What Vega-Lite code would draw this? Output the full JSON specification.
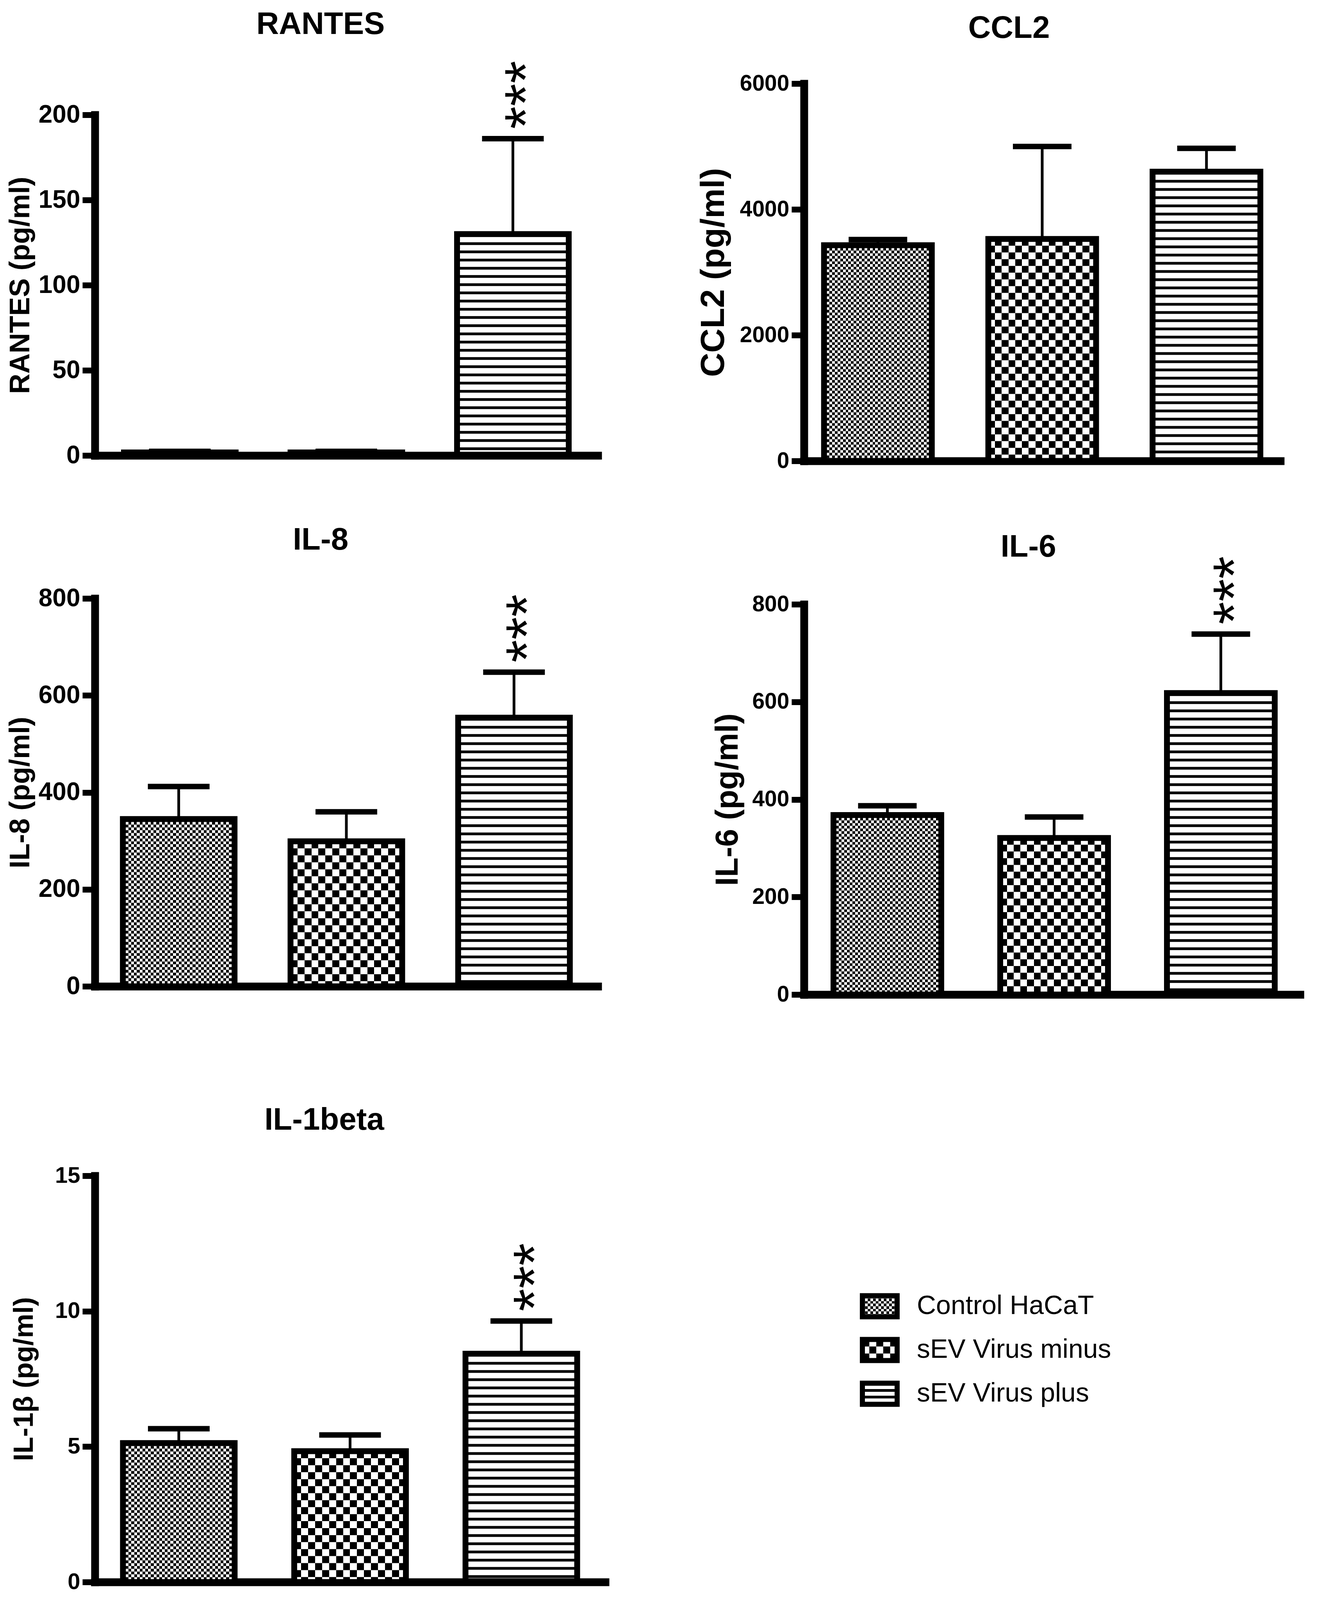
{
  "$schema": "https://vega.github.io/schema/vega-lite/v6.json",
  "background": "white",
  "padding": {"left": 16, "top": 23, "right": 0, "bottom": 0},
  "data": {
    "values": [
      {"panel": "RANTES", "group": "Control HaCaT", "mean": 1.8, "high": 2.4, "sig": ""},
      {"panel": "RANTES", "group": "sEV Virus minus", "mean": 1.8, "high": 2.4, "sig": ""},
      {"panel": "RANTES", "group": "sEV Virus plus", "mean": 130, "high": 186, "sig": "***"},
      {"panel": "CCL2", "group": "Control HaCaT", "mean": 3430, "high": 3520, "sig": ""},
      {"panel": "CCL2", "group": "sEV Virus minus", "mean": 3530, "high": 5000, "sig": ""},
      {"panel": "CCL2", "group": "sEV Virus plus", "mean": 4600, "high": 4970, "sig": ""},
      {"panel": "IL-8", "group": "Control HaCaT", "mean": 345, "high": 412, "sig": ""},
      {"panel": "IL-8", "group": "sEV Virus minus", "mean": 299, "high": 360, "sig": ""},
      {"panel": "IL-8", "group": "sEV Virus plus", "mean": 554, "high": 648, "sig": "***"},
      {"panel": "IL-6", "group": "Control HaCaT", "mean": 368, "high": 387, "sig": ""},
      {"panel": "IL-6", "group": "sEV Virus minus", "mean": 321, "high": 364, "sig": ""},
      {"panel": "IL-6", "group": "sEV Virus plus", "mean": 618, "high": 739, "sig": "***"},
      {"panel": "IL-1beta", "group": "Control HaCaT", "mean": 5.13, "high": 5.66, "sig": ""},
      {"panel": "IL-1beta", "group": "sEV Virus minus", "mean": 4.83, "high": 5.43, "sig": ""},
      {"panel": "IL-1beta", "group": "sEV Virus plus", "mean": 8.43, "high": 9.64, "sig": "***"}
    ]
  },
  "concat": [
    {
      "concat": [
        {
          "concat": [
            {
              "title": {"text": "RANTES", "offset": 51},
              "width": 1288,
              "height": 952,
              "transform": [{"filter": "datum.panel === 'RANTES'"}],
              "encoding": {
                "x": {"field": "group", "type": "nominal", "sort": null, "scale": {"type": "band", "paddingInner": 0.3, "paddingOuter": 0.16}, "axis": {"labels": false, "ticks": false, "title": null}},
                "y": {"field": "mean", "type": "quantitative", "scale": {"domain": [0, 200], "nice": false, "range": [952, 80]}, "axis": {"values": [0, 50, 100, 150, 200], "format": "d", "title": "RANTES (pg/ml)", "titlePadding": 9}}
              },
              "layer": [
                {"transform": [{"filter": "datum.group === 'Control HaCaT'"}], "mark": {"type": "bar", "style": "fineCols", "size": 286}},
                {"transform": [{"filter": "datum.group === 'sEV Virus minus'"}], "mark": {"type": "bar", "style": "coarseCols", "size": 286}},
                {"transform": [{"filter": "datum.group === 'Control HaCaT'"}], "mark": {"type": "rule", "color": "#fff", "strokeWidth": 286, "strokeDash": [7.15, 7.15], "blend": "difference"}, "encoding": {"y2": {"datum": 0}}},
                {"transform": [{"filter": "datum.group === 'sEV Virus minus'"}], "mark": {"type": "rule", "color": "#fff", "strokeWidth": 286, "strokeDash": [17.9, 17.9], "blend": "difference"}, "encoding": {"y2": {"datum": 0}}},
                {"transform": [{"filter": "datum.group === 'sEV Virus plus'"}], "mark": {"type": "rule", "color": "#000", "strokeWidth": 286, "strokeDash": [7, 14]}, "encoding": {"y2": {"datum": 0}}},
                {"mark": {"type": "rule", "color": "#000", "strokeWidth": 7}, "encoding": {"y2": {"field": "high"}}},
                {"mark": {"type": "bar", "filled": false, "color": "#000", "strokeWidth": 15, "size": 286}},
                {"mark": {"type": "tick", "orient": "horizontal", "color": "#000", "size": 158, "thickness": 14, "opacity": 1}, "encoding": {"y": {"field": "high", "type": "quantitative"}}},
                {"transform": [{"filter": "datum.sig === '***'"}], "mark": {"type": "text", "style": "stars"}, "encoding": {"y": {"field": "high", "type": "quantitative"}, "text": {"field": "sig"}}}
              ]
            },
            {
              "title": {"text": "IL-8", "offset": 76},
              "width": 1288,
              "height": 993,
              "transform": [{"filter": "datum.panel === 'IL-8'"}],
              "encoding": {
                "x": {"field": "group", "type": "nominal", "sort": null, "scale": {"type": "band", "paddingInner": 0.3, "paddingOuter": 0.15}, "axis": {"labels": false, "ticks": false, "title": null}},
                "y": {"field": "mean", "type": "quantitative", "scale": {"domain": [0, 800], "nice": false}, "axis": {"values": [0, 200, 400, 600, 800], "format": "d", "title": "IL-8 (pg/ml)", "titlePadding": 9}}
              },
              "layer": [
                {"transform": [{"filter": "datum.group === 'Control HaCaT'"}], "mark": {"type": "bar", "style": "fineCols", "size": 286}},
                {"transform": [{"filter": "datum.group === 'sEV Virus minus'"}], "mark": {"type": "bar", "style": "coarseCols", "size": 286}},
                {"transform": [{"filter": "datum.group === 'Control HaCaT'"}], "mark": {"type": "rule", "color": "#fff", "strokeWidth": 286, "strokeDash": [7.15, 7.15], "blend": "difference"}, "encoding": {"y2": {"datum": 0}}},
                {"transform": [{"filter": "datum.group === 'sEV Virus minus'"}], "mark": {"type": "rule", "color": "#fff", "strokeWidth": 286, "strokeDash": [17.9, 17.9], "blend": "difference"}, "encoding": {"y2": {"datum": 0}}},
                {"transform": [{"filter": "datum.group === 'sEV Virus plus'"}], "mark": {"type": "rule", "color": "#000", "strokeWidth": 286, "strokeDash": [7, 14]}, "encoding": {"y2": {"datum": 0}}},
                {"mark": {"type": "rule", "color": "#000", "strokeWidth": 7}, "encoding": {"y2": {"field": "high"}}},
                {"mark": {"type": "bar", "filled": false, "color": "#000", "strokeWidth": 15, "size": 286}},
                {"mark": {"type": "tick", "orient": "horizontal", "color": "#000", "size": 158, "thickness": 14, "opacity": 1}, "encoding": {"y": {"field": "high", "type": "quantitative"}}},
                {"transform": [{"filter": "datum.sig === '***'"}], "mark": {"type": "text", "style": "stars"}, "encoding": {"y": {"field": "high", "type": "quantitative"}, "text": {"field": "sig"}}}
              ]
            }
          ],
          "columns": 1,
          "align": "none",
          "spacing": 34
        },
        {
          "title": {"text": "IL-1beta", "offset": 72},
          "width": 1307,
          "height": 1040,
          "transform": [{"filter": "datum.panel === 'IL-1beta'"}],
          "encoding": {
            "x": {"field": "group", "type": "nominal", "sort": null, "scale": {"type": "band", "paddingInner": 0.3, "paddingOuter": 0.14}, "axis": {"labels": false, "ticks": false, "title": null}},
            "y": {"field": "mean", "type": "quantitative", "scale": {"domain": [0, 15], "nice": false}, "axis": {"values": [0, 5, 10, 15], "format": "d", "title": "IL-1β (pg/ml)", "titlePadding": 42, "labelFontSize": 58, "titleFontSize": 70}}
          },
          "layer": [
            {"transform": [{"filter": "datum.group === 'Control HaCaT'"}], "mark": {"type": "bar", "style": "fineCols", "size": 286}},
            {"transform": [{"filter": "datum.group === 'sEV Virus minus'"}], "mark": {"type": "bar", "style": "coarseCols", "size": 286}},
            {"transform": [{"filter": "datum.group === 'Control HaCaT'"}], "mark": {"type": "rule", "color": "#fff", "strokeWidth": 286, "strokeDash": [7.15, 7.15], "blend": "difference"}, "encoding": {"y2": {"datum": 0}}},
            {"transform": [{"filter": "datum.group === 'sEV Virus minus'"}], "mark": {"type": "rule", "color": "#fff", "strokeWidth": 286, "strokeDash": [17.9, 17.9], "blend": "difference"}, "encoding": {"y2": {"datum": 0}}},
            {"transform": [{"filter": "datum.group === 'sEV Virus plus'"}], "mark": {"type": "rule", "color": "#000", "strokeWidth": 286, "strokeDash": [7, 14]}, "encoding": {"y2": {"datum": 0}}},
            {"mark": {"type": "rule", "color": "#000", "strokeWidth": 7}, "encoding": {"y2": {"field": "high"}}},
            {"mark": {"type": "bar", "filled": false, "color": "#000", "strokeWidth": 15, "size": 286}},
            {"mark": {"type": "tick", "orient": "horizontal", "color": "#000", "size": 158, "thickness": 14, "opacity": 1}, "encoding": {"y": {"field": "high", "type": "quantitative"}}},
            {"transform": [{"filter": "datum.sig === '***'"}], "mark": {"type": "text", "style": "stars"}, "encoding": {"y": {"field": "high", "type": "quantitative"}, "text": {"field": "sig"}}}
          ]
        }
      ],
      "columns": 1,
      "align": "none",
      "spacing": 160
    },
    {
      "concat": [
        {
          "concat": [
            {
              "title": {"text": "CCL2", "offset": 71, "dx": -85},
              "width": 1220,
              "height": 966,
              "transform": [{"filter": "datum.panel === 'CCL2'"}],
              "encoding": {
                "x": {"field": "group", "type": "nominal", "sort": null, "scale": {"type": "band", "paddingInner": 0.3, "paddingOuter": 0.1}, "axis": {"labels": false, "ticks": false, "title": null}},
                "y": {"field": "mean", "type": "quantitative", "scale": {"domain": [0, 6000], "nice": false}, "axis": {"values": [0, 2000, 4000, 6000], "format": "d", "title": "CCL2 (pg/ml)", "titlePadding": 23, "labelFontSize": 57, "titleFontSize": 86}}
              },
              "layer": [
                {"transform": [{"filter": "datum.group === 'Control HaCaT'"}], "mark": {"type": "bar", "style": "fineCols", "size": 276}},
                {"transform": [{"filter": "datum.group === 'sEV Virus minus'"}], "mark": {"type": "bar", "style": "coarseCols", "size": 276}},
                {"transform": [{"filter": "datum.group === 'Control HaCaT'"}], "mark": {"type": "rule", "color": "#fff", "strokeWidth": 276, "strokeDash": [6.9, 6.9], "blend": "difference"}, "encoding": {"y2": {"datum": 0}}},
                {"transform": [{"filter": "datum.group === 'sEV Virus minus'"}], "mark": {"type": "rule", "color": "#fff", "strokeWidth": 276, "strokeDash": [17.25, 17.25], "blend": "difference"}, "encoding": {"y2": {"datum": 0}}},
                {"transform": [{"filter": "datum.group === 'sEV Virus plus'"}], "mark": {"type": "rule", "color": "#000", "strokeWidth": 276, "strokeDash": [7, 14]}, "encoding": {"y2": {"datum": 0}}},
                {"mark": {"type": "rule", "color": "#000", "strokeWidth": 7}, "encoding": {"y2": {"field": "high"}}},
                {"mark": {"type": "bar", "filled": false, "color": "#000", "strokeWidth": 15, "size": 276}},
                {"mark": {"type": "tick", "orient": "horizontal", "color": "#000", "size": 150, "thickness": 14, "opacity": 1}, "encoding": {"y": {"field": "high", "type": "quantitative"}}}
              ]
            },
            {
              "title": {"text": "IL-6", "offset": -18},
              "width": 1281,
              "height": 999,
              "transform": [{"filter": "datum.panel === 'IL-6'"}],
              "encoding": {
                "x": {"field": "group", "type": "nominal", "sort": null, "scale": {"type": "band", "paddingInner": 0.3, "paddingOuter": 0.15}, "axis": {"labels": false, "ticks": false, "title": null}},
                "y": {"field": "mean", "type": "quantitative", "scale": {"domain": [0, 800], "nice": false}, "axis": {"values": [0, 200, 400, 600, 800], "format": "d", "title": "IL-6 (pg/ml)", "titlePadding": 20, "labelFontSize": 57, "titleFontSize": 82}}
              },
              "layer": [
                {"transform": [{"filter": "datum.group === 'Control HaCaT'"}], "mark": {"type": "bar", "style": "fineCols", "size": 276}},
                {"transform": [{"filter": "datum.group === 'sEV Virus minus'"}], "mark": {"type": "bar", "style": "coarseCols", "size": 276}},
                {"transform": [{"filter": "datum.group === 'Control HaCaT'"}], "mark": {"type": "rule", "color": "#fff", "strokeWidth": 276, "strokeDash": [6.9, 6.9], "blend": "difference"}, "encoding": {"y2": {"datum": 0}}},
                {"transform": [{"filter": "datum.group === 'sEV Virus minus'"}], "mark": {"type": "rule", "color": "#fff", "strokeWidth": 276, "strokeDash": [17.25, 17.25], "blend": "difference"}, "encoding": {"y2": {"datum": 0}}},
                {"transform": [{"filter": "datum.group === 'sEV Virus plus'"}], "mark": {"type": "rule", "color": "#000", "strokeWidth": 276, "strokeDash": [7, 14]}, "encoding": {"y2": {"datum": 0}}},
                {"mark": {"type": "rule", "color": "#000", "strokeWidth": 7}, "encoding": {"y2": {"field": "high"}}},
                {"mark": {"type": "bar", "filled": false, "color": "#000", "strokeWidth": 15, "size": 276}},
                {"mark": {"type": "tick", "orient": "horizontal", "color": "#000", "size": 150, "thickness": 14, "opacity": 1}, "encoding": {"y": {"field": "high", "type": "quantitative"}}},
                {"transform": [{"filter": "datum.sig === '***'"}], "mark": {"type": "text", "style": "stars"}, "encoding": {"y": {"field": "high", "type": "quantitative"}, "text": {"field": "sig"}}}
              ]
            }
          ],
          "columns": 1,
          "align": "none",
          "spacing": 42
        },
        {
          "width": 238.5,
          "height": 336,
          "transform": [{"filter": "datum.panel === 'IL-1beta'"}],
          "encoding": {
            "y": {"field": "group", "type": "nominal", "sort": null, "scale": {"type": "band", "paddingInner": 0.52, "paddingOuter": 0.26}, "axis": {"orient": "right", "domain": false, "ticks": false, "tickSize": 0, "labelPadding": 50, "labelFontWeight": "normal", "labelFontSize": 68, "labelLimit": 0, "title": null}},
            "x": {"datum": 0, "type": "quantitative", "scale": {"domain": [0, 1], "nice": false, "zero": false, "range": [149.5, 238.5]}, "axis": null},
            "x2": {"datum": 1}
          },
          "layer": [
            {"transform": [{"filter": "datum.group === 'Control HaCaT'"}], "mark": {"type": "rect", "style": "legFineRows"}},
            {"transform": [{"filter": "datum.group === 'sEV Virus minus'"}], "mark": {"type": "rect", "style": "legCoarseRows"}},
            {"transform": [{"filter": "datum.group === 'sEV Virus plus'"}], "mark": {"type": "rect", "style": "legStripes"}},
            {"transform": [{"filter": "datum.group === 'Control HaCaT'"}], "mark": {"type": "rule", "color": "#fff", "strokeWidth": 54, "strokeDash": [6.85, 6.85], "blend": "difference"}},
            {"transform": [{"filter": "datum.group === 'sEV Virus minus'"}], "mark": {"type": "rule", "color": "#fff", "strokeWidth": 54, "strokeDash": [17.8, 17.8], "blend": "difference"}},
            {"mark": {"type": "rect", "filled": false, "color": "#000", "strokeWidth": 13}}
          ]
        }
      ],
      "columns": 1,
      "align": "none",
      "spacing": 604
    }
  ],
  "columns": 2,
  "align": "none",
  "spacing": 234,
  "config": {
    "view": {"stroke": null},
    "font": "Liberation Sans",
    "axis": {
      "grid": false,
      "domainColor": "#000",
      "domainWidth": 20,
      "domainCap": "square",
      "tickColor": "#000",
      "tickWidth": 15,
      "tickSize": 32,
      "labelColor": "#000",
      "labelFont": "Liberation Sans",
      "labelFontWeight": "bold",
      "labelFontSize": 64,
      "labelPadding": 6,
      "labelOverlap": false,
      "labelFlush": false,
      "titleColor": "#000",
      "titleFont": "Liberation Sans",
      "titleFontWeight": "bold",
      "titleFontSize": 72
    },
    "title": {"font": "Liberation Sans", "fontWeight": "bold", "fontSize": 80, "color": "#000", "anchor": "middle", "dx": -66},
    "style": {
      "stars": {"font": "Liberation Sans", "fontSize": 150, "color": "#000", "angle": 270, "align": "center", "baseline": "middle", "dx": 112, "dy": 40},
      "fineCols": {"color": {"gradient": "linear", "x1": 0, "y1": 0, "x2": 1, "y2": 0, "stops": [
        {"offset": 0, "color": "#000"}, {"offset": 0.025, "color": "#000"}, {"offset": 0.025, "color": "#fff"}, {"offset": 0.05, "color": "#fff"},
        {"offset": 0.05, "color": "#000"}, {"offset": 0.075, "color": "#000"}, {"offset": 0.075, "color": "#fff"}, {"offset": 0.1, "color": "#fff"},
        {"offset": 0.1, "color": "#000"}, {"offset": 0.125, "color": "#000"}, {"offset": 0.125, "color": "#fff"}, {"offset": 0.15, "color": "#fff"},
        {"offset": 0.15, "color": "#000"}, {"offset": 0.175, "color": "#000"}, {"offset": 0.175, "color": "#fff"}, {"offset": 0.2, "color": "#fff"},
        {"offset": 0.2, "color": "#000"}, {"offset": 0.225, "color": "#000"}, {"offset": 0.225, "color": "#fff"}, {"offset": 0.25, "color": "#fff"},
        {"offset": 0.25, "color": "#000"}, {"offset": 0.275, "color": "#000"}, {"offset": 0.275, "color": "#fff"}, {"offset": 0.3, "color": "#fff"},
        {"offset": 0.3, "color": "#000"}, {"offset": 0.325, "color": "#000"}, {"offset": 0.325, "color": "#fff"}, {"offset": 0.35, "color": "#fff"},
        {"offset": 0.35, "color": "#000"}, {"offset": 0.375, "color": "#000"}, {"offset": 0.375, "color": "#fff"}, {"offset": 0.4, "color": "#fff"},
        {"offset": 0.4, "color": "#000"}, {"offset": 0.425, "color": "#000"}, {"offset": 0.425, "color": "#fff"}, {"offset": 0.45, "color": "#fff"},
        {"offset": 0.45, "color": "#000"}, {"offset": 0.475, "color": "#000"}, {"offset": 0.475, "color": "#fff"}, {"offset": 0.5, "color": "#fff"},
        {"offset": 0.5, "color": "#000"}, {"offset": 0.525, "color": "#000"}, {"offset": 0.525, "color": "#fff"}, {"offset": 0.55, "color": "#fff"},
        {"offset": 0.55, "color": "#000"}, {"offset": 0.575, "color": "#000"}, {"offset": 0.575, "color": "#fff"}, {"offset": 0.6, "color": "#fff"},
        {"offset": 0.6, "color": "#000"}, {"offset": 0.625, "color": "#000"}, {"offset": 0.625, "color": "#fff"}, {"offset": 0.65, "color": "#fff"},
        {"offset": 0.65, "color": "#000"}, {"offset": 0.675, "color": "#000"}, {"offset": 0.675, "color": "#fff"}, {"offset": 0.7, "color": "#fff"},
        {"offset": 0.7, "color": "#000"}, {"offset": 0.725, "color": "#000"}, {"offset": 0.725, "color": "#fff"}, {"offset": 0.75, "color": "#fff"},
        {"offset": 0.75, "color": "#000"}, {"offset": 0.775, "color": "#000"}, {"offset": 0.775, "color": "#fff"}, {"offset": 0.8, "color": "#fff"},
        {"offset": 0.8, "color": "#000"}, {"offset": 0.825, "color": "#000"}, {"offset": 0.825, "color": "#fff"}, {"offset": 0.85, "color": "#fff"},
        {"offset": 0.85, "color": "#000"}, {"offset": 0.875, "color": "#000"}, {"offset": 0.875, "color": "#fff"}, {"offset": 0.9, "color": "#fff"},
        {"offset": 0.9, "color": "#000"}, {"offset": 0.925, "color": "#000"}, {"offset": 0.925, "color": "#fff"}, {"offset": 0.95, "color": "#fff"},
        {"offset": 0.95, "color": "#000"}, {"offset": 0.975, "color": "#000"}, {"offset": 0.975, "color": "#fff"}, {"offset": 1, "color": "#fff"}
      ]}},
      "coarseCols": {"color": {"gradient": "linear", "x1": 0, "y1": 0, "x2": 1, "y2": 0, "stops": [
        {"offset": 0, "color": "#000"}, {"offset": 0.0625, "color": "#000"}, {"offset": 0.0625, "color": "#fff"}, {"offset": 0.125, "color": "#fff"},
        {"offset": 0.125, "color": "#000"}, {"offset": 0.1875, "color": "#000"}, {"offset": 0.1875, "color": "#fff"}, {"offset": 0.25, "color": "#fff"},
        {"offset": 0.25, "color": "#000"}, {"offset": 0.3125, "color": "#000"}, {"offset": 0.3125, "color": "#fff"}, {"offset": 0.375, "color": "#fff"},
        {"offset": 0.375, "color": "#000"}, {"offset": 0.4375, "color": "#000"}, {"offset": 0.4375, "color": "#fff"}, {"offset": 0.5, "color": "#fff"},
        {"offset": 0.5, "color": "#000"}, {"offset": 0.5625, "color": "#000"}, {"offset": 0.5625, "color": "#fff"}, {"offset": 0.625, "color": "#fff"},
        {"offset": 0.625, "color": "#000"}, {"offset": 0.6875, "color": "#000"}, {"offset": 0.6875, "color": "#fff"}, {"offset": 0.75, "color": "#fff"},
        {"offset": 0.75, "color": "#000"}, {"offset": 0.8125, "color": "#000"}, {"offset": 0.8125, "color": "#fff"}, {"offset": 0.875, "color": "#fff"},
        {"offset": 0.875, "color": "#000"}, {"offset": 0.9375, "color": "#000"}, {"offset": 0.9375, "color": "#fff"}, {"offset": 1, "color": "#fff"}
      ]}},
      "legFineRows": {"color": {"gradient": "linear", "x1": 0, "y1": 0, "x2": 0, "y2": 1, "stops": [
        {"offset": 0, "color": "#000"}, {"offset": 0.125, "color": "#000"}, {"offset": 0.125, "color": "#fff"}, {"offset": 0.25, "color": "#fff"},
        {"offset": 0.25, "color": "#000"}, {"offset": 0.375, "color": "#000"}, {"offset": 0.375, "color": "#fff"}, {"offset": 0.5, "color": "#fff"},
        {"offset": 0.5, "color": "#000"}, {"offset": 0.625, "color": "#000"}, {"offset": 0.625, "color": "#fff"}, {"offset": 0.75, "color": "#fff"},
        {"offset": 0.75, "color": "#000"}, {"offset": 0.875, "color": "#000"}, {"offset": 0.875, "color": "#fff"}, {"offset": 1, "color": "#fff"}
      ]}},
      "legCoarseRows": {"color": {"gradient": "linear", "x1": 0, "y1": 0, "x2": 0, "y2": 1, "stops": [
        {"offset": 0, "color": "#fff"}, {"offset": 0.3333, "color": "#fff"}, {"offset": 0.3333, "color": "#000"}, {"offset": 0.6667, "color": "#000"},
        {"offset": 0.6667, "color": "#fff"}, {"offset": 1, "color": "#fff"}
      ]}},
      "legStripes": {"color": {"gradient": "linear", "x1": 0, "y1": 0, "x2": 0, "y2": 1, "stops": [
        {"offset": 0, "color": "#fff"}, {"offset": 0.27, "color": "#fff"}, {"offset": 0.27, "color": "#000"}, {"offset": 0.4, "color": "#000"},
        {"offset": 0.4, "color": "#fff"}, {"offset": 0.6, "color": "#fff"}, {"offset": 0.6, "color": "#000"}, {"offset": 0.73, "color": "#000"},
        {"offset": 0.73, "color": "#fff"}, {"offset": 1, "color": "#fff"}
      ]}}
    }
  }
}
